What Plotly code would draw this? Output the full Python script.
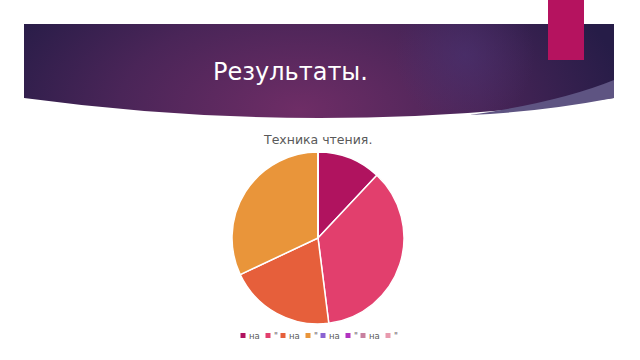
import base64
import plotly.graph_objects as go

# Data
labels = ["на", "\"", "на ", "\" ", "на  ", "\"  ", "на   ", "\"   "]
legend_text = ["на", "\"", "на", "\"", "на", "\"", "на", "\""]
values = [12, 36, 20, 32, 0, 0, 0, 0]
colors = ["#B0135F", "#E23F6D", "#E65F3B", "#E9953A", "#8A63D2", "#B233C0", "#C8809F", "#E89AAE"]
slide_title = "Результаты."
chart_title = "Техника чтения."

W, H = 640, 360

svg = f'''<svg xmlns="http://www.w3.org/2000/svg" width="{W}" height="{H}" viewBox="0 0 {W} {H}" preserveAspectRatio="none">
<defs>
<radialGradient id="g" cx="300" cy="110" r="330" gradientUnits="userSpaceOnUse" gradientTransform="translate(300 110) scale(1 0.55) translate(-300 -110)">
<stop offset="0" stop-color="#6E2D66"/>
<stop offset="0.55" stop-color="#4A2558"/>
<stop offset="1" stop-color="#261C47"/>
</radialGradient>
<radialGradient id="b" cx="465" cy="55" r="70" gradientUnits="userSpaceOnUse">
<stop offset="0" stop-color="#4A3372" stop-opacity="0.6"/>
<stop offset="1" stop-color="#4A3372" stop-opacity="0"/>
</radialGradient>
</defs>
<path d="M24 24 L614 24 L614 98 Q320 138 24 98 Z" fill="url(#g)"/>
<path d="M24 24 L614 24 L614 98 Q320 138 24 98 Z" fill="url(#b)"/>
<path d="M614 80 L614 98 Q540 112 470 115 Q560 102 614 80 Z" fill="#5E5482"/>
<rect x="548" y="0" width="36" height="60" fill="#B5135F"/>
</svg>'''
src = "data:image/svg+xml;base64," + base64.b64encode(svg.encode()).decode()

fig = go.Figure()
fig.add_trace(go.Pie(
    labels=labels, values=values, sort=False, direction="clockwise", rotation=0,
    marker=dict(colors=colors, line=dict(color="white", width=1.5)),
    textinfo="none", hoverinfo="label+value", showlegend=False,
    domain=dict(x=[232 / W, 404 / W], y=[1 - 324 / H, 1 - 152 / H]),
))

annotations = [
    dict(text=slide_title, x=290 / W, y=1 - 72 / H, xref="paper", yref="paper",
         xanchor="center", yanchor="middle", showarrow=False,
         font=dict(family="DejaVu Sans", size=24, color="white")),
    dict(text=chart_title, x=317.5 / W, y=1 - 139 / H, xref="paper", yref="paper",
         xanchor="center", yanchor="middle", showarrow=False,
         font=dict(family="DejaVu Sans", size=12.5, color="#595959")),
]
shapes = []
# manual compact legend, positions derived from label widths
text_w = {"на": 10.0, "\"": 3.0}
gap_after = {"на": 9.0, "\"": 6.0}
x = 240.5
ly = 335.5
for t, c in zip(legend_text, colors):
    shapes.append(dict(type="rect", xref="paper", yref="paper",
                       x0=x / W, x1=(x + 5) / W, y0=1 - (ly + 2.5) / H, y1=1 - (ly - 2.5) / H,
                       fillcolor=c, line=dict(width=0)))
    annotations.append(dict(text=t, x=(x + 6) / W, y=1 - ly / H, xref="paper", yref="paper",
                            xanchor="left", yanchor="middle", showarrow=False,
                            font=dict(family="DejaVu Sans", size=8.5, color="#595959")))
    x += 6 + text_w[t] + gap_after[t]

fig.update_layout(
    width=W, height=H, margin=dict(l=0, r=0, t=0, b=0),
    paper_bgcolor="white", plot_bgcolor="white",
    images=[dict(source=src, xref="paper", yref="paper", x=0, y=1, sizex=1, sizey=1,
                 sizing="stretch", layer="below", xanchor="left", yanchor="top")],
    annotations=annotations, shapes=shapes,
)
fig.write_html("out.html")
